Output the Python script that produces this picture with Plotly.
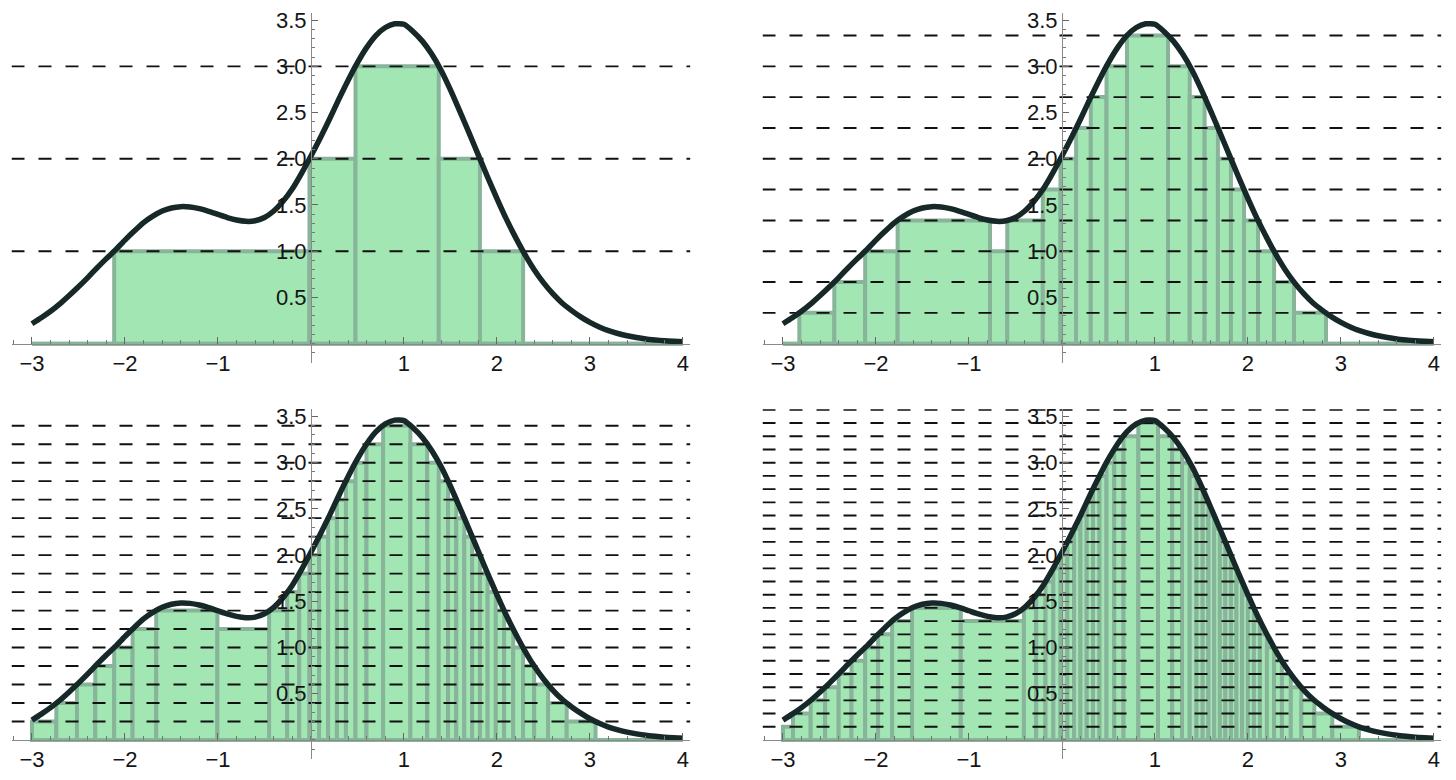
import plotly.graph_objects as go

# curve (same curve in all four panels)
curve_x = [-3.0, -2.9, -2.8, -2.7, -2.6, -2.5, -2.4, -2.3, -2.2, -2.1,
           -2.0, -1.9, -1.8, -1.7, -1.6, -1.5, -1.4, -1.3, -1.2, -1.1,
           -1.0, -0.9, -0.8, -0.7, -0.6, -0.5, -0.4, -0.3, -0.2, -0.1,
           0.0, 0.1, 0.2, 0.3, 0.4, 0.5, 0.6, 0.7, 0.8, 0.9,
           1.0, 1.1, 1.2, 1.3, 1.4, 1.5, 1.6, 1.7, 1.8, 1.9,
           2.0, 2.1, 2.2, 2.3, 2.4, 2.5, 2.6, 2.7, 2.8, 2.9,
           3.0, 3.1, 3.2, 3.3, 3.4, 3.5, 3.6, 3.7, 3.8, 3.9, 4.0]
curve_y = [0.215, 0.28, 0.35, 0.43, 0.52, 0.615, 0.715, 0.82, 0.92, 1.015,
           1.12, 1.218, 1.31, 1.38, 1.435, 1.468, 1.482, 1.478, 1.46, 1.432,
           1.398, 1.364, 1.337, 1.323, 1.329, 1.365, 1.435, 1.54, 1.675, 1.845,
           2.03, 2.225, 2.43, 2.645, 2.85, 3.04, 3.205, 3.335, 3.42, 3.46,
           3.455, 3.375, 3.27, 3.13, 2.955, 2.745, 2.515, 2.28, 2.04, 1.80,
           1.57, 1.35, 1.15, 0.965, 0.80, 0.66, 0.54, 0.44, 0.36, 0.29,
           0.23, 0.18, 0.14, 0.11, 0.085, 0.066, 0.051, 0.04, 0.031, 0.025, 0.02]

# panel 1: levels 1, 2, 3
levels_1 = [1.0, 2.0, 3.0]
edges_1 = [-3.0, -2.116, -0.016, 0.479, 1.374, 1.817, 2.281, 4.0]
heights_1 = [0, 1.0, 2.0, 3.0, 2.0, 1.0, 0]

# panel 2: levels in thirds
levels_2 = [0.333, 0.667, 1.0, 1.333, 1.667, 2.0, 2.333, 2.667, 3.0, 3.333]
edges_2 = [-3.0, -2.824, -2.448, -2.116, -1.767, -0.774, -0.588, -0.206, -0.016,
           0.152, 0.310, 0.479, 0.699, 1.140, 1.374, 1.534, 1.677, 1.817, 1.958,
           2.108, 2.281, 2.495, 2.839, 4.0]
heights_2 = [0, 0.333, 0.667, 1.0, 1.333, 1.0, 1.333, 1.667, 2.0, 2.333, 2.667,
             3.0, 3.333, 3.0, 2.667, 2.333, 2.0, 1.667, 1.333, 1.0, 0.667, 0.333, 0]

# panel 3: levels in fifths
levels_3 = [0.2, 0.4, 0.6, 0.8, 1.0, 1.2, 1.4, 1.6, 1.8, 2.0, 2.2, 2.4,
            2.6, 2.8, 3.0, 3.2, 3.4, 3.6]
edges_3 = [-3.0, -2.738, -2.516, -2.319, -2.116, -1.918, -1.664, -1.006, -0.45,
           -0.256, -0.126, -0.016, 0.087, 0.185, 0.279, 0.376, 0.479, 0.597,
           0.776, 1.069, 1.25, 1.374, 1.474, 1.563, 1.649, 1.733, 1.817, 1.9,
           1.987, 2.077, 2.175, 2.281, 2.4, 2.55, 2.75, 3.06, 4.0]
heights_3 = [0.2, 0.4, 0.6, 0.8, 1.0, 1.2, 1.4, 1.2, 1.4, 1.6, 1.8, 2.0, 2.2,
             2.4, 2.6, 2.8, 3.0, 3.2, 3.4, 3.2, 3.0, 2.8, 2.6, 2.4, 2.2, 2.0,
             1.8, 1.6, 1.4, 1.2, 1.0, 0.8, 0.6, 0.4, 0.2, 0]

# panel 4: levels in sevenths
levels_4 = [0.143, 0.286, 0.429, 0.571, 0.714, 0.857, 1.0, 1.143, 1.286,
            1.429, 1.571, 1.714, 1.857, 2.0, 2.143, 2.286, 2.429, 2.571,
            2.714, 2.857, 3.0, 3.143, 3.286, 3.429, 3.571]
edges_4 = [-3.0, -2.892, -2.702, -2.546, -2.401, -2.263, -2.116, -1.977, -1.826,
           -1.612, -1.088, -0.409, -0.277, -0.177, -0.093, -0.016, 0.058, 0.130,
           0.199, 0.266, 0.334, 0.404, 0.479, 0.562, 0.662, 0.821, 1.033, 1.185,
           1.291, 1.374, 1.447, 1.513, 1.575, 1.637, 1.698, 1.757, 1.817, 1.876,
           1.937, 1.999, 2.064, 2.129, 2.204, 2.281, 2.365, 2.461, 2.574, 2.714,
           2.907, 3.193, 4.0]
heights_4 = [0.143, 0.286, 0.429, 0.571, 0.714, 0.857, 1.0, 1.143, 1.286, 1.429,
             1.286, 1.429, 1.571, 1.714, 1.857, 2.0, 2.143, 2.286, 2.429, 2.571,
             2.714, 2.857, 3.0, 3.143, 3.286, 3.429, 3.286, 3.143, 3.0, 2.857,
             2.714, 2.571, 2.429, 2.286, 2.143, 2.0, 1.857, 1.714, 1.571, 1.429,
             1.286, 1.143, 1.0, 0.857, 0.714, 0.571, 0.429, 0.286, 0.143, 0]

x_tick_vals = [-3, -2, -1, 1, 2, 3, 4]
x_tick_text = ["\u22123", "\u22122", "\u22121", "1", "2", "3", "4"]
y_tick_vals = [0.5, 1.0, 1.5, 2.0, 2.5, 3.0, 3.5]
y_tick_text = ["0.5", "1.0", "1.5", "2.0", "2.5", "3.0", "3.5"]

X_RANGE = [-3.22, 4.08]
Y_RANGE = [-0.21, 3.577]

BAR_FILL = "#a2e6b3"
BAR_EDGE = "#88b59a"
CURVE_COLOR = "#162828"
DASH_COLOR = "#111111"
AXIS_COLOR = "#8a8a8a"
FONT = dict(family="Liberation Sans, Arial, sans-serif", size=22, color="#151515")

# the page body has an 8px margin, so the figure is 1440x764 and
# the panel boxes below are given in window pixels
FIG_W, FIG_H, PAGE_MARGIN = 1440, 764, 8
col_px = [[11.5, 690.4], [762.5, 1441.4]]   # left, right
row_px = [[8.0, 361.3], [408.0, 761.3]]     # top, bottom


def x_domain(px):
    return [(px[0] - PAGE_MARGIN) / FIG_W, (px[1] - PAGE_MARGIN) / FIG_W]


def y_domain(px):
    return [max(0.0, 1 - (px[1] - PAGE_MARGIN) / FIG_H),
            min(1.0, 1 - (px[0] - PAGE_MARGIN) / FIG_H)]


panels = [
    (edges_1, heights_1, levels_1),
    (edges_2, heights_2, levels_2),
    (edges_3, heights_3, levels_3),
    (edges_4, heights_4, levels_4),
]

fig = go.Figure()
layout = {}

for i, (edges, heights, levels) in enumerate(panels):
    n = i + 1
    xname = "x" if n == 1 else f"x{n}"
    yname = "y" if n == 1 else f"y{n}"
    xdom = x_domain(col_px[i % 2])
    ydom = y_domain(row_px[i // 2])

    centers = [(a + b) / 2 for a, b in zip(edges[:-1], edges[1:])]
    widths = [b - a for a, b in zip(edges[:-1], edges[1:])]

    fig.add_trace(go.Bar(x=centers, y=heights, width=widths,
                         marker=dict(color=BAR_FILL,
                                     line=dict(color=BAR_EDGE, width=4)),
                         xaxis=xname, yaxis=yname, showlegend=False,
                         hoverinfo="skip"))
    # bottom edge of the zero-height bars
    fig.add_trace(go.Scatter(x=[edges[0], edges[-1]], y=[0, 0], mode="lines",
                             line=dict(color=BAR_EDGE, width=4),
                             xaxis=xname, yaxis=yname, showlegend=False,
                             hoverinfo="skip"))
    # dashed level lines
    for lv in levels:
        fig.add_trace(go.Scatter(x=X_RANGE, y=[lv, lv], mode="lines",
                                 line=dict(color=DASH_COLOR, width=1.9,
                                           dash="13px,14px"),
                                 xaxis=xname, yaxis=yname, showlegend=False,
                                 hoverinfo="skip"))
    fig.add_trace(go.Scatter(x=curve_x, y=curve_y, mode="lines",
                             line=dict(color=CURVE_COLOR, width=5.5,
                                       shape="spline", smoothing=0.6),
                             xaxis=xname, yaxis=yname, showlegend=False,
                             hoverinfo="skip"))

    # axes cross at the origin like the original
    ypos = xdom[0] + (0 - X_RANGE[0]) / (X_RANGE[1] - X_RANGE[0]) * (xdom[1] - xdom[0])
    xpos = ydom[0] + (0 - Y_RANGE[0]) / (Y_RANGE[1] - Y_RANGE[0]) * (ydom[1] - ydom[0])

    layout["xaxis" if n == 1 else f"xaxis{n}"] = dict(
        domain=xdom, range=X_RANGE, anchor="free", position=xpos,
        showgrid=False, zeroline=False, showline=True,
        linecolor=AXIS_COLOR, linewidth=1,
        tickmode="array", tickvals=x_tick_vals, ticktext=x_tick_text,
        ticks="inside", ticklen=7, tickcolor="#666666", tickwidth=1,
        minor=dict(tickmode="linear", tick0=0, dtick=0.2, ticks="inside",
                   ticklen=4, tickcolor="#777777", showgrid=False),
        tickfont=FONT, ticklabeloverflow="allow", fixedrange=True)
    layout["yaxis" if n == 1 else f"yaxis{n}"] = dict(
        domain=ydom, range=Y_RANGE, anchor="free", position=ypos,
        showgrid=False, zeroline=False, showline=True,
        linecolor=AXIS_COLOR, linewidth=1,
        tickmode="array", tickvals=y_tick_vals, ticktext=y_tick_text,
        ticks="inside", ticklen=6, tickcolor="#666666", tickwidth=1,
        minor=dict(tickmode="linear", tick0=0, dtick=0.1, ticks="inside",
                   ticklen=3, tickcolor="#777777", showgrid=False),
        tickfont=FONT, ticklabeloverflow="allow", fixedrange=True)

fig.update_layout(
    width=FIG_W, height=FIG_H,
    margin=dict(l=0, r=0, t=0, b=0),
    paper_bgcolor="white", plot_bgcolor="white",
    showlegend=False, hovermode=False,
    barmode="overlay",
    **layout
)

fig.write_html("out.html", config={"displayModeBar": False})
